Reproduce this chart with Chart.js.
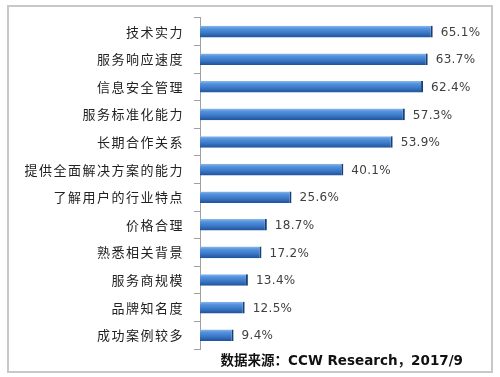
<!DOCTYPE html>
<html>
<head>
<meta charset="utf-8">
<script src="https://cdn.jsdelivr.net/npm/chart.js@4"></script>
<style>
    body { margin: 0; background: #fff; }
    #wrap { position: relative; width: 500px; height: 377px; }
    #frame { position: absolute; left: 7px; top: 5px; width: 482px; height: 364px; border: 2px solid #c8c8c8; }
    canvas { position: absolute; left: 0; top: 0; }
</style>
</head>
<body>
<div id="wrap">
    <div id="frame"></div>
    <canvas id="grafica" width="500" height="377"></canvas>
</div>
<script>
const categorias = ['技术实力', '服务响应速度', '信息安全管理', '服务标准化能力', '长期合作关系', '提供全面解决方案的能力',
    '了解用户的行业特点', '价格合理', '熟悉相关背景', '服务商规模', '品牌知名度', '成功案例较多'];
const valores = [65.1, 63.7, 62.4, 57.3, 53.9, 40.1, 25.6, 18.7, 17.2, 13.4, 12.5, 9.4];
const fuente = '数据来源：CCW Research，2017/9';

// degradado tipo cilindro para cada barra
function colorBarra(context) {
    const chart = context.chart;
    const escala = chart.scales && chart.scales.y;
    if (!escala || !chart.chartArea) return '#3a78c8';
    const centro = escala.getPixelForValue(context.dataIndex);
    if (!isFinite(centro)) return '#3a78c8';
    const h = 12;
    const y0 = centro - h / 2;
    const g = chart.ctx.createLinearGradient(0, y0, 0, y0 + h);
    g.addColorStop(0, '#8dbcef');
    g.addColorStop(0.25, '#5592dc');
    g.addColorStop(0.6, '#3a78c8');
    g.addColorStop(1, '#1f4f94');
    return g;
}

// espaciado de letras para las etiquetas del eje
const espaciado = {
    id: 'espaciado',
    beforeDraw(chart) { chart.ctx.letterSpacing = '1.5px'; }
};

const etiquetas = {
    id: 'etiquetas',
    afterDatasetsDraw(chart) {
        const ctx = chart.ctx;
        const meta = chart.getDatasetMeta(0);
        ctx.save();
        ctx.letterSpacing = '0.3px';
        ctx.font = '12px "DejaVu Sans"';
        ctx.fillStyle = '#404040';
        ctx.textBaseline = 'middle';
        meta.data.forEach(function(bar, i) {
            ctx.fillText(valores[i].toFixed(1) + '%', bar.x + 8, bar.y + 1);
        });
        ctx.letterSpacing = '0px';
        ctx.font = 'bold 13.5px "DejaVu Sans", "Noto Sans CJK SC"';
        ctx.fillStyle = '#111';
        ctx.textAlign = 'right';
        ctx.fillText(fuente, 463, 361);
        ctx.restore();
    }
};

const ctx = document.getElementById('grafica').getContext('2d');
const grafica = new Chart(ctx, {
    type: 'bar',
    data: {
        labels: categorias,
        datasets: [{
            data: valores,
            backgroundColor: colorBarra,
            borderColor: '#1a3f75',
            borderWidth: { top: 0, right: 2, bottom: 0, left: 0 },
            borderSkipped: false,
            barPercentage: 0.42,
            categoryPercentage: 1
        }]
    },
    options: {
        indexAxis: 'y',
        responsive: false,
        animation: false,
        layout: { padding: { left: 0, top: 13, right: 14, bottom: 28 } },
        scales: {
            x: {
                display: false,
                min: 0,
                max: 80
            },
            y: {
                offset: true,
                afterFit: function(scale) { scale.width = 200; },
                grid: {
                    drawOnChartArea: false,
                    offset: true,
                    tickLength: 6,
                    color: '#a0a0a0'
                },
                border: { color: '#a0a0a0', width: 1 },
                ticks: {
                    padding: 10,
                    color: '#222',
                    font: { family: '"Noto Sans CJK SC"', size: 13 }
                }
            }
        },
        plugins: {
            legend: { display: false },
            tooltip: { enabled: false }
        }
    },
    plugins: [espaciado, etiquetas]
});
</script>
</body>
</html>
